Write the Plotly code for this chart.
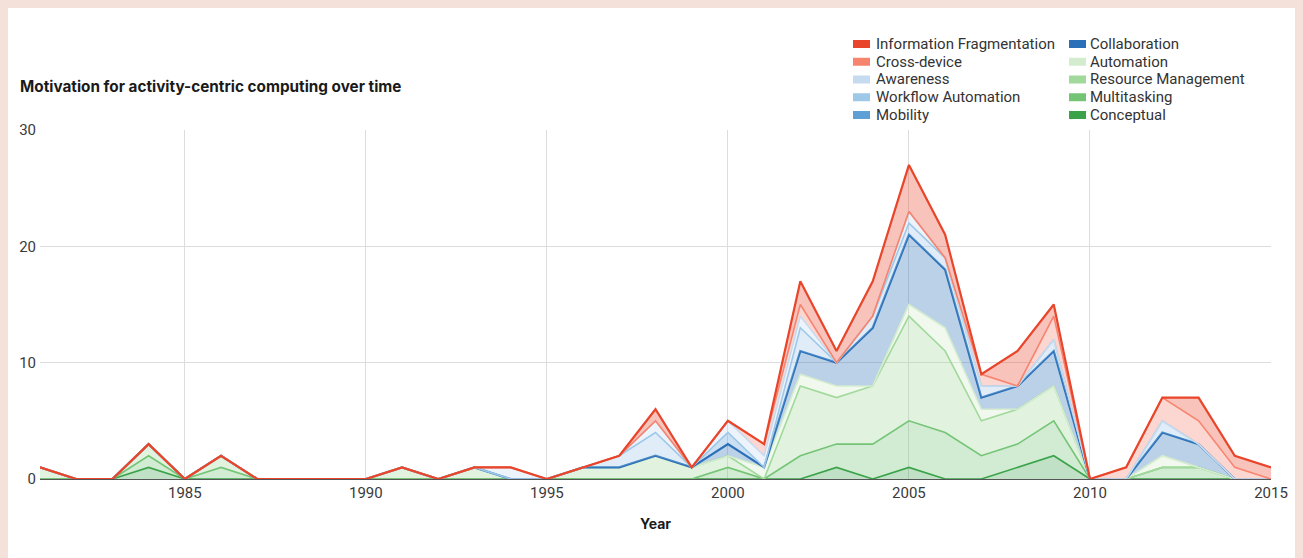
import plotly.graph_objects as go

# ---------------- data ----------------
years = list(range(1981, 2016))

conceptual = [0, 0, 0, 1, 0, 0, 0, 0, 0, 0, 0, 0, 0, 0, 0, 0, 0, 0, 0, 0,
              0, 0, 1, 0, 1, 0, 0, 1, 2, 0, 0, 0, 0, 0, 0]
multitasking = [0, 0, 0, 1, 0, 1, 0, 0, 0, 0, 0, 0, 0, 0, 0, 0, 0, 0, 0, 1,
                0, 2, 2, 3, 4, 4, 2, 2, 3, 0, 0, 1, 1, 0, 0]
resource_management = [1, 0, 0, 1, 0, 1, 0, 0, 0, 0, 1, 0, 1, 0, 0, 1, 1, 2, 1, 1,
                       0, 6, 4, 5, 9, 7, 3, 3, 3, 0, 0, 0, 0, 0, 0]
automation = [0, 0, 0, 0, 0, 0, 0, 0, 0, 0, 0, 0, 0, 0, 0, 0, 0, 0, 0, 0,
              1, 1, 1, 0, 1, 2, 1, 0, 0, 0, 0, 1, 0, 0, 0]
collaboration = [0, 0, 0, 0, 0, 0, 0, 0, 0, 0, 0, 0, 0, 0, 0, 0, 0, 0, 0, 1,
                 0, 2, 2, 5, 6, 5, 1, 2, 3, 0, 0, 2, 2, 0, 0]
mobility = [0, 0, 0, 0, 0, 0, 0, 0, 0, 0, 0, 0, 0, 0, 0, 0, 0, 0, 0, 1,
            0, 0, 0, 0, 0, 0, 0, 0, 0, 0, 0, 0, 0, 0, 0]
workflow_automation = [0, 0, 0, 0, 0, 0, 0, 0, 0, 0, 0, 0, 0, 0, 0, 0, 1, 2, 0, 0,
                       0, 2, 0, 1, 1, 1, 1, 0, 1, 0, 0, 1, 0, 0, 0]
awareness = [0, 0, 0, 0, 0, 0, 0, 0, 0, 0, 0, 0, 0, 1, 0, 0, 0, 1, 0, 1,
             1, 1, 0, 0, 1, 0, 0, 0, 0, 0, 0, 0, 0, 0, 0]
cross_device = [0, 0, 0, 0, 0, 0, 0, 0, 0, 0, 0, 0, 0, 0, 0, 0, 0, 0, 0, 0,
                1, 1, 0, 0, 0, 0, 1, 0, 2, 0, 1, 2, 2, 1, 0]
information_fragmentation = [0, 0, 0, 0, 0, 0, 0, 0, 0, 0, 0, 0, 0, 0, 0, 0, 0, 1, 0, 0,
                             0, 2, 1, 3, 4, 2, 0, 3, 1, 0, 0, 0, 2, 1, 1]

# stacking order: bottom -> top
series_names = ["Conceptual", "Multitasking", "Resource Management", "Automation",
                "Collaboration", "Mobility", "Workflow Automation", "Awareness",
                "Cross-device", "Information Fragmentation"]
series_values = [conceptual, multitasking, resource_management, automation,
                 collaboration, mobility, workflow_automation, awareness,
                 cross_device, information_fragmentation]
series_colors = ["#3aa34a", "#74c476", "#a1d99b", "#d3ecce",
                 "#2a70b8", "#5e9fd6", "#9ec8e8", "#c6dbef",
                 "#f7846f", "#e8452b"]
series_line_widths = [1.6, 1.6, 1.6, 1.6, 2.2, 0, 1.6, 1.6, 1.6, 2.2]

legend_col1 = ["Information Fragmentation", "Cross-device", "Awareness",
               "Workflow Automation", "Mobility"]
legend_col2 = ["Collaboration", "Automation", "Resource Management",
               "Multitasking", "Conceptual"]

title_text = "Motivation for activity-centric computing over time"

# ---------------- layout geometry ----------------
OFF = 8                      # page (body) margin of the browser
W, H = 1303 - OFF, 558 - OFF  # figure size
L, R, T, B = 40 - OFF, 32, 130 - OFF, 79
PW = W - L - R
PH = H - T - B


def px_x(px):  # page pixel -> paper coordinate
    return (px - OFF - L) / PW


def px_y(py):
    return (H - B - (py - OFF)) / PH


def rgba(hexc, a):
    hexc = hexc.lstrip("#")
    r, g, b = int(hexc[0:2], 16), int(hexc[2:4], 16), int(hexc[4:6], 16)
    return f"rgba({r},{g},{b},{a})"


fig = go.Figure()
for name, vals, col, lw in zip(series_names, series_values, series_colors,
                               series_line_widths):
    fig.add_trace(go.Scatter(
        x=years, y=vals, name=name, mode="lines", stackgroup="one",
        line=dict(color=col, width=lw), fillcolor=rgba(col, 0.32),
        showlegend=False, hoverinfo="skip"))

font_main = "Roboto, 'Open Sans', sans-serif"

shapes = []
annotations = []

# manual two-column legend
row_y = [44 + 17.75 * i for i in range(5)]
color_of = dict(zip(series_names, series_colors))
for col_items, sw_x0, tx in ((legend_col1, 853, 874), (legend_col2, 1069, 1088)):
    for name, cy in zip(col_items, row_y):
        shapes.append(dict(type="rect", xref="paper", yref="paper",
                           x0=px_x(sw_x0), x1=px_x(sw_x0 + 17),
                           y0=px_y(cy + 4), y1=px_y(cy - 4),
                           fillcolor=color_of[name], line=dict(width=0)))
        annotations.append(dict(xref="paper", yref="paper", x=px_x(tx), y=px_y(cy),
                                xanchor="left", yanchor="middle", showarrow=False,
                                text=name, font=dict(family=font_main, size=15,
                                                     color="#333333")))

fig.update_layout(
    width=W, height=H,
    margin=dict(l=L, r=R, t=T, b=B, pad=0),
    paper_bgcolor="white", plot_bgcolor="white",
    title=dict(text="<b>" + title_text + "</b>", xref="container", yref="container",
               x=(20 - OFF) / W, y=1 - (87 - OFF) / H, xanchor="left", yanchor="middle",
               font=dict(family="Inter, Roboto, sans-serif", size=15.3, color="#1a1a1a")),
    xaxis=dict(range=[1981, 2015], tick0=1985, dtick=5, showgrid=True,
               gridcolor="#dddddd", gridwidth=1, zeroline=False,
               showline=True, linecolor="#555555", linewidth=1,
               ticks="", layer="below traces",
               tickfont=dict(family=font_main, size=15, color="#3a3a3a"),
               title=dict(text="<b>Year</b>", standoff=18,
                          font=dict(family="Inter, Roboto, sans-serif", size=14,
                                    color="#1a1a1a"))),
    yaxis=dict(range=[0, 30], dtick=10, showgrid=True, gridcolor="#dddddd",
               gridwidth=1, zeroline=False, showline=False, ticks="",
               layer="below traces", ticklabelstandoff=3,
               tickfont=dict(family=font_main, size=15, color="#3a3a3a")),
    shapes=shapes, annotations=annotations,
    showlegend=False, hovermode=False,
)

fig.write_html(
    "out.html",
    post_script="document.body.style.background='#f4e1d9';"
                "document.body.style.overflow='hidden';",
)
